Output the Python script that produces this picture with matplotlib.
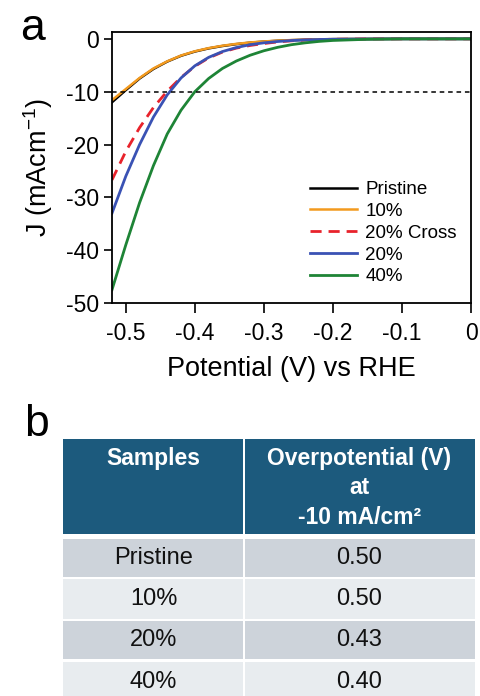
import matplotlib
matplotlib.use("Agg")
from matplotlib import pyplot as plt
from matplotlib.patches import Rectangle
from matplotlib.ticker import FuncFormatter

plt.rcParams['font.family'] = ['Liberation Sans', 'DejaVu Sans']
plt.rcParams['axes.unicode_minus'] = False
plt.rcParams['mathtext.fontset'] = 'custom'
plt.rcParams['mathtext.rm'] = 'Liberation Sans'

# LSV data
potential = [-0.52, -0.50, -0.48, -0.46, -0.44, -0.42, -0.40, -0.38, -0.36, -0.34,
             -0.32, -0.30, -0.28, -0.26, -0.24, -0.22, -0.20, -0.15, -0.10, -0.05, 0.0]
j_pristine = [-12, -9.7, -7.5, -5.7, -4.3, -3.2, -2.4, -1.8, -1.35, -1.0,
              -0.72, -0.52, -0.36, -0.25, -0.17, -0.1, -0.06, -0.02, 0, 0, 0]
j_10 = [-11.6, -9.5, -7.4, -5.6, -4.25, -3.15, -2.35, -1.75, -1.3, -0.95,
        -0.68, -0.49, -0.34, -0.23, -0.15, -0.09, -0.05, -0.02, 0, 0, 0]
j_20cross = [-26.7, -21.3, -16.8, -13, -9.9, -7.3, -5.2, -3.6, -2.5, -1.75,
             -1.25, -0.88, -0.58, -0.37, -0.23, -0.14, -0.07, -0.02, 0, 0, 0]
j_20 = [-33, -26, -20, -14.8, -10.6, -7.4, -5.1, -3.5, -2.4, -1.65,
        -1.1, -0.75, -0.5, -0.32, -0.2, -0.12, -0.07, -0.02, 0, 0, 0]
j_40 = [-47.5, -39, -31, -24, -18, -13.5, -10, -7.5, -5.6, -4.2,
        -3.1, -2.25, -1.6, -1.1, -0.75, -0.48, -0.3, -0.08, 0, 0, 0]

# table data
col_labels = ["Samples", "Overpotential (V)\nat\n-10 mA/cm\u00b2"]
samples = ["Pristine", "10%", "20%", "40%"]
overpotential = ["0.50", "0.50", "0.43", "0.40"]

W, H = 480, 696
fig = plt.figure(figsize=(W / 100, H / 100), dpi=100)

# panel a
ax = fig.add_axes([112 / W, 1 - 303 / H, 359 / W, 271 / H])
ax.plot(potential, j_pristine, color="black", lw=1.8, label="Pristine")
ax.plot(potential, j_10, color="#F39A1E", lw=1.8, label="10%")
ax.plot(potential, j_20cross, color="#E8222B", lw=2.0, dashes=(4, 2.5), label="20% Cross")
ax.plot(potential, j_20, color="#3A52B4", lw=2.0, label="20%")
ax.plot(potential, j_40, color="#1E8436", lw=2.0, label="40%")
ax.axhline(-10, color="black", lw=1.1, dashes=(3, 2.5))

ax.set_xlim(-0.52, 0)
ax.set_ylim(-50, 1.3)
ax.set_xticks([-0.5, -0.4, -0.3, -0.2, -0.1, 0])
ax.set_yticks([0, -10, -20, -30, -40, -50])
ax.xaxis.set_major_formatter(FuncFormatter(lambda v, p: "0" if abs(v) < 1e-9 else "%.1f" % v))
ax.tick_params(labelsize=16.5, width=1.2)
ax.tick_params(axis="x", length=7.5, pad=6)
ax.tick_params(axis="y", length=5.5, pad=4)
for s in ax.spines.values():
    s.set_linewidth(1.3)
ax.set_xlabel("Potential (V) vs RHE", fontsize=19.5, labelpad=8)
ax.set_ylabel("J (mAcm$^{\\mathregular{-1}}$)", fontsize=19.5, labelpad=8)

leg = ax.legend(loc="upper left", bbox_to_anchor=(310 / W, 1 - 181 / H),
                bbox_transform=fig.transFigure, frameon=False, fontsize=13.5,
                handlelength=2.5, handletextpad=0.45, labelspacing=0.25,
                borderaxespad=0, borderpad=0)

# overlay axes in pixel coords for labels and table
ov = fig.add_axes([0, 0, 1, 1])
ov.set_xlim(0, W)
ov.set_ylim(H, 0)
ov.axis("off")

ov.text(20, 40, "a", fontsize=32, ha="left", va="baseline")
ov.text(24, 436, "b", fontsize=32, ha="left", va="baseline")

x0, x1, x2 = 63, 244, 475
hdr_top, hdr_bot = 439, 534
row_edges = [(539, 577), (579, 619), (621, 659), (662, 700)]
row_colors = ["#CDD3DA", "#E8ECEF", "#CDD3DA", "#E8ECEF"]
hdr_color = "#1C5A7D"

ov.add_patch(Rectangle((x0, hdr_top), x1 - x0 - 1, hdr_bot - hdr_top, color=hdr_color, lw=0))
ov.add_patch(Rectangle((x1 + 1, hdr_top), x2 - x1 - 1, hdr_bot - hdr_top, color=hdr_color, lw=0))
for k, label in enumerate(col_labels):
    xc = (x0 + x1) / 2 if k == 0 else (x1 + x2) / 2
    for i, line in enumerate(label.split("\n")):
        ov.text(xc, 459 + 29 * i, line, color="white", fontsize=16.5, fontweight="bold",
                ha="center", va="center")

for (top, bot), c, sname, val in zip(row_edges, row_colors, samples, overpotential):
    ov.add_patch(Rectangle((x0, top), x1 - x0 - 1, bot - top, color=c, lw=0))
    ov.add_patch(Rectangle((x1 + 1, top), x2 - x1 - 1, bot - top, color=c, lw=0))
    yc = (top + bot) / 2 if bot < 690 else 682
    ov.text((x0 + x1) / 2, yc, sname, fontsize=17, ha="center", va="center", color="#111111")
    ov.text((x1 + x2) / 2, yc, val, fontsize=17, ha="center", va="center", color="#111111")

fig.savefig("out.png", dpi=100)
plt.close(fig)
